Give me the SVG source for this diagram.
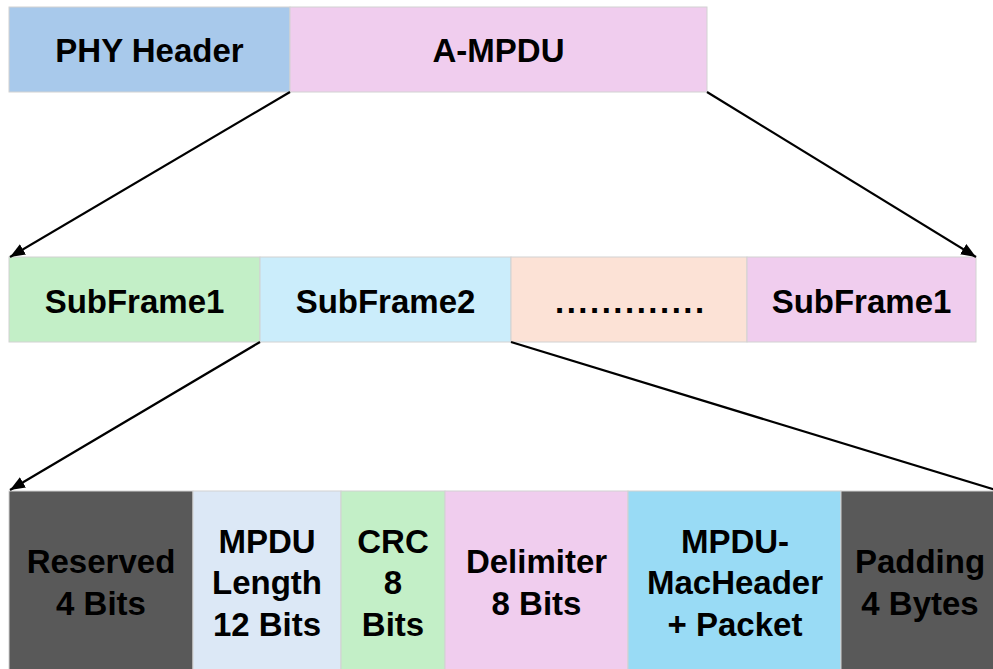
<svg xmlns="http://www.w3.org/2000/svg" width="993" height="669" viewBox="0 0 993 669">
  <style>
    .box { stroke: #d2d2d2; stroke-width: 1; }
    .lbl { font-family: "Liberation Sans", Arial, sans-serif; font-weight: bold; font-size: 33px; fill: #000; text-anchor: middle; }
    .link { stroke: #000; stroke-width: 2.2; fill: none; marker-end: url(#head); }
  </style>
  <defs>
    <marker id="head" markerUnits="userSpaceOnUse" markerWidth="16" markerHeight="12" refX="15" refY="6" orient="auto">
      <path d="M0,0 L15,6 L0,12 Z" fill="#000"/>
    </marker>
  </defs>
  <rect width="993" height="669" fill="#fff"/>

  <!-- frame: PHY header + aggregate -->
  <g id="phy-header">
    <rect class="box" x="9" y="7" width="281" height="85" fill="#a8c9eb"/>
    <text class="lbl" x="149.5" y="62">PHY Header</text>
  </g>
  <g id="a-mpdu">
    <rect class="box" x="290" y="7" width="417" height="85" fill="#f0cdee"/>
    <text class="lbl" x="498.5" y="62">A-MPDU</text>
  </g>

  <!-- subframes -->
  <g id="subframe1">
    <rect class="box" x="9" y="257" width="251" height="85" fill="#c3efc7"/>
    <text class="lbl" x="134.5" y="313">SubFrame1</text>
  </g>
  <g id="subframe2">
    <rect class="box" x="260" y="257" width="251" height="85" fill="#cbedfb"/>
    <text class="lbl" x="385.5" y="313">SubFrame2</text>
  </g>
  <g id="subframe-more">
    <rect class="box" x="511" y="257" width="236" height="85" fill="#fce2d6"/>
    <text class="lbl" x="555" y="313" style="text-anchor:start; letter-spacing:2.5px">.............</text>
  </g>
  <g id="subframe-last">
    <rect class="box" x="747" y="257" width="229" height="85" fill="#f0cdee"/>
    <text class="lbl" x="861.5" y="313">SubFrame1</text>
  </g>

  <!-- subframe fields -->
  <g id="reserved">
    <rect class="box" x="9" y="491" width="184" height="180" fill="#595959"/>
    <text class="lbl" x="101" y="573">Reserved</text>
    <text class="lbl" x="101" y="615">4 Bits</text>
  </g>
  <g id="mpdu-length">
    <rect class="box" x="193" y="491" width="148" height="180" fill="#dce8f6"/>
    <text class="lbl" x="267" y="553">MPDU</text>
    <text class="lbl" x="267" y="594">Length</text>
    <text class="lbl" x="267" y="636">12 Bits</text>
  </g>
  <g id="crc">
    <rect class="box" x="341" y="491" width="104" height="180" fill="#c3efc7"/>
    <text class="lbl" x="393" y="553">CRC</text>
    <text class="lbl" x="393" y="594">8</text>
    <text class="lbl" x="393" y="636">Bits</text>
  </g>
  <g id="delimiter">
    <rect class="box" x="445" y="491" width="183" height="180" fill="#f0cdee"/>
    <text class="lbl" x="536.5" y="573">Delimiter</text>
    <text class="lbl" x="536.5" y="615">8 Bits</text>
  </g>
  <g id="payload">
    <rect class="box" x="628" y="491" width="213" height="180" fill="#99dbf5"/>
    <text class="lbl" x="735" y="553">MPDU-</text>
    <text class="lbl" x="735" y="594">MacHeader</text>
    <text class="lbl" x="735" y="636">+ Packet</text>
  </g>
  <g id="padding">
    <rect class="box" x="841" y="491" width="160" height="180" fill="#595959"/>
    <text class="lbl" x="920" y="573">Padding</text>
    <text class="lbl" x="920" y="615">4 Bytes</text>
  </g>

  <!-- expansion connectors -->
  <g id="connectors">
    <line class="link" x1="290" y1="92" x2="10" y2="257"/>
    <line class="link" x1="707" y1="92" x2="976" y2="257"/>
    <line class="link" x1="260" y1="342" x2="10" y2="490"/>
    <line class="link" x1="511" y1="342" x2="1012" y2="495"/>
  </g>
</svg>
